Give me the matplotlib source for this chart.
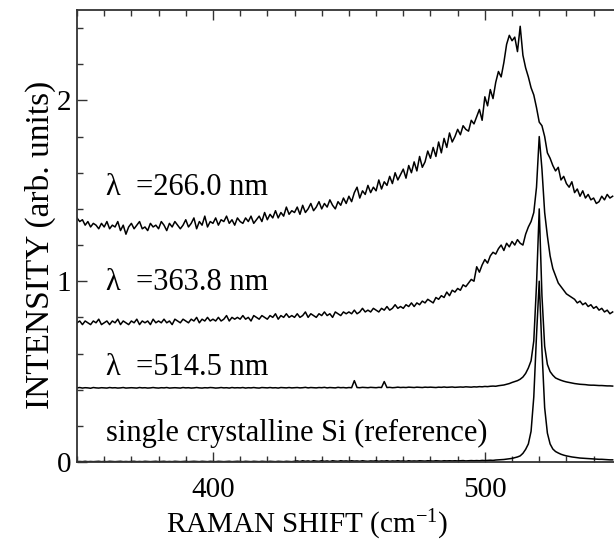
import numpy as np
import matplotlib
matplotlib.use('Agg')
import matplotlib.pyplot as plt
from matplotlib.ticker import MultipleLocator

plt.rcParams['font.family'] = ['Liberation Serif', 'DejaVu Serif']
plt.rcParams['mathtext.fontset'] = 'custom'
plt.rcParams['mathtext.rm'] = 'Liberation Serif'
plt.rcParams['mathtext.default'] = 'regular'

# Raman shift sampling, 350 .. 547 cm-1, 1 cm-1 step
shift = np.arange(350, 548)

# lambda = 266.0 nm
i_266 = [
    1.35, 1.33, 1.34, 1.31, 1.33, 1.30, 1.32, 1.31, 1.29, 1.32,
    1.30, 1.33, 1.29, 1.31, 1.30, 1.33, 1.28, 1.31, 1.26, 1.30,
    1.32, 1.29, 1.31, 1.33, 1.29, 1.30, 1.28, 1.32, 1.30, 1.31,
    1.29, 1.33, 1.31, 1.28, 1.32, 1.30, 1.33, 1.31, 1.29, 1.31,
    1.34, 1.30, 1.32, 1.35, 1.29, 1.33, 1.31, 1.36, 1.30, 1.33,
    1.32, 1.35, 1.31, 1.34, 1.33, 1.36, 1.32, 1.34, 1.31, 1.35,
    1.33, 1.32, 1.35, 1.33, 1.36, 1.32, 1.34, 1.36, 1.33, 1.38,
    1.34, 1.37, 1.35, 1.39, 1.35, 1.38, 1.36, 1.41, 1.37, 1.39,
    1.38, 1.41, 1.37, 1.42, 1.38, 1.40, 1.43, 1.39, 1.41, 1.44,
    1.40, 1.43, 1.41, 1.45, 1.42, 1.40, 1.44, 1.42, 1.46, 1.43,
    1.47, 1.44, 1.49, 1.52, 1.46, 1.50, 1.48, 1.53, 1.49, 1.52,
    1.50, 1.56, 1.51, 1.55, 1.53, 1.58, 1.54, 1.60, 1.56, 1.59,
    1.62, 1.57, 1.64, 1.60, 1.66, 1.61, 1.69, 1.63, 1.66, 1.72,
    1.68, 1.74, 1.69, 1.77, 1.71, 1.79, 1.74, 1.82, 1.77, 1.80,
    1.84, 1.81, 1.86, 1.84, 1.83, 1.89, 1.87, 1.91, 1.95, 1.89,
    2.02, 1.97, 2.06, 2.01, 2.10, 2.16, 2.13, 2.21, 2.31, 2.36,
    2.33, 2.35, 2.27, 2.41, 2.25, 2.18, 2.13, 2.07, 2.03, 1.96,
    1.88, 1.86, 1.80, 1.71, 1.68, 1.64, 1.61, 1.63, 1.56, 1.58,
    1.54, 1.52, 1.55, 1.49, 1.51, 1.47, 1.50, 1.46, 1.48, 1.45,
    1.46, 1.43, 1.44, 1.47, 1.45, 1.48, 1.46, 1.47,
]

# lambda = 363.8 nm
i_364 = [
    0.77, 0.78, 0.76, 0.78, 0.77, 0.76, 0.78, 0.77, 0.79, 0.76,
    0.77, 0.78, 0.76, 0.78, 0.77, 0.79, 0.76, 0.78, 0.77, 0.76,
    0.78, 0.77, 0.79, 0.76, 0.78, 0.77, 0.78, 0.76, 0.79, 0.77,
    0.78, 0.77, 0.79, 0.77, 0.78, 0.76, 0.79, 0.78, 0.77, 0.79,
    0.78, 0.77, 0.79, 0.78, 0.80, 0.77, 0.79, 0.78, 0.80, 0.78,
    0.79, 0.78, 0.80, 0.78, 0.79, 0.81, 0.78, 0.80, 0.79, 0.80,
    0.79, 0.81, 0.79, 0.80, 0.78, 0.81, 0.80, 0.79, 0.81, 0.80,
    0.79, 0.81, 0.80, 0.82, 0.79, 0.81, 0.80, 0.82, 0.80, 0.81,
    0.80, 0.82, 0.80, 0.81, 0.83, 0.80, 0.82, 0.81, 0.80, 0.82,
    0.81, 0.83, 0.81, 0.82, 0.80, 0.83, 0.82, 0.81, 0.83, 0.82,
    0.83, 0.82, 0.84, 0.82, 0.83, 0.85, 0.83, 0.84, 0.83, 0.85,
    0.84, 0.83, 0.85, 0.84, 0.86, 0.84, 0.85, 0.87, 0.85, 0.86,
    0.85, 0.87, 0.86, 0.88, 0.86, 0.88, 0.87, 0.89, 0.88, 0.90,
    0.89, 0.88, 0.91, 0.90, 0.92, 0.91, 0.94, 0.92, 0.95, 0.94,
    0.96, 0.95, 0.98, 0.97, 0.99, 1.01, 1.00, 1.08, 1.05, 1.09,
    1.12, 1.10, 1.14, 1.16, 1.15, 1.18, 1.20, 1.17, 1.21, 1.19,
    1.22, 1.20, 1.23, 1.21, 1.20, 1.26, 1.30, 1.33, 1.38, 1.52,
    1.80, 1.62, 1.38, 1.25, 1.14, 1.07, 1.03, 0.99, 0.97, 0.95,
    0.93, 0.92, 0.91, 0.90, 0.88, 0.89, 0.87, 0.88, 0.86, 0.87,
    0.85, 0.86, 0.84, 0.85, 0.83, 0.84, 0.82, 0.83,
]

# lambda = 514.5 nm
i_515 = [
    0.410, 0.412, 0.409, 0.411, 0.410, 0.408, 0.412, 0.410, 0.409, 0.411,
    0.410, 0.409, 0.412, 0.410, 0.411, 0.409, 0.410, 0.412, 0.409, 0.410,
    0.411, 0.410, 0.409, 0.412, 0.410, 0.411, 0.409, 0.410, 0.412, 0.410,
    0.409, 0.411, 0.410, 0.412, 0.409, 0.410, 0.411, 0.410, 0.409, 0.412,
    0.410, 0.411, 0.409, 0.410, 0.412, 0.410, 0.409, 0.411, 0.410, 0.412,
    0.411, 0.409, 0.410, 0.412, 0.410, 0.411, 0.409, 0.412, 0.410, 0.411,
    0.410, 0.412, 0.409, 0.411, 0.410, 0.412, 0.410, 0.409, 0.412, 0.411,
    0.410, 0.412, 0.410, 0.411, 0.409, 0.412, 0.411, 0.410, 0.412, 0.410,
    0.411, 0.412, 0.410, 0.411, 0.413, 0.410, 0.412, 0.411, 0.410, 0.412,
    0.411, 0.413, 0.410, 0.412, 0.411, 0.410, 0.413, 0.411, 0.412, 0.410,
    0.412, 0.411, 0.450, 0.412, 0.411, 0.413, 0.412, 0.411, 0.413, 0.412,
    0.411, 0.413, 0.412, 0.445, 0.412, 0.413, 0.411, 0.412, 0.414, 0.412,
    0.413, 0.412, 0.414, 0.413, 0.412, 0.414, 0.413, 0.412, 0.414, 0.413,
    0.414, 0.413, 0.412, 0.414, 0.413, 0.415, 0.413, 0.414, 0.415, 0.413,
    0.414, 0.415, 0.414, 0.416, 0.415, 0.414, 0.416, 0.415, 0.417, 0.416,
    0.418, 0.417, 0.419, 0.420, 0.419, 0.422, 0.424, 0.426, 0.430, 0.434,
    0.440, 0.445, 0.450, 0.458, 0.470, 0.490, 0.520, 0.560, 0.670, 0.980,
    1.400, 0.920, 0.640, 0.540, 0.500, 0.480, 0.465, 0.458, 0.452, 0.447,
    0.443, 0.440, 0.437, 0.434, 0.432, 0.430, 0.429, 0.428, 0.426, 0.425,
    0.425, 0.424, 0.423, 0.423, 0.422, 0.421, 0.421, 0.420,
]

# single crystalline Si (reference)
i_ref = [
    0.002, 0.003, 0.002, 0.004, 0.002, 0.003, 0.002, 0.003, 0.004, 0.002,
    0.003, 0.002, 0.004, 0.003, 0.002, 0.003, 0.004, 0.002, 0.003, 0.002,
    0.003, 0.004, 0.002, 0.003, 0.002, 0.004, 0.003, 0.002, 0.003, 0.004,
    0.002, 0.003, 0.004, 0.002, 0.003, 0.002, 0.004, 0.003, 0.002, 0.003,
    0.004, 0.002, 0.003, 0.004, 0.003, 0.002, 0.004, 0.003, 0.002, 0.004,
    0.003, 0.002, 0.004, 0.003, 0.002, 0.003, 0.004, 0.002, 0.003, 0.004,
    0.003, 0.002, 0.004, 0.003, 0.002, 0.004, 0.003, 0.002, 0.004, 0.003,
    0.002, 0.004, 0.003, 0.002, 0.004, 0.003, 0.002, 0.004, 0.003, 0.002,
    0.004, 0.006, 0.003, 0.007, 0.004, 0.006, 0.003, 0.007, 0.005, 0.004,
    0.007, 0.004, 0.006, 0.003, 0.007, 0.005, 0.004, 0.007, 0.005, 0.006,
    0.004, 0.007, 0.005, 0.006, 0.004, 0.007, 0.005, 0.004, 0.006, 0.005,
    0.007, 0.004, 0.006, 0.005, 0.007, 0.004, 0.006, 0.005, 0.007, 0.005,
    0.006, 0.004, 0.007, 0.005, 0.006, 0.005, 0.007, 0.006, 0.005, 0.007,
    0.006, 0.005, 0.007, 0.006, 0.005, 0.007, 0.006, 0.007, 0.006, 0.007,
    0.006, 0.007, 0.008, 0.006, 0.007, 0.008, 0.007, 0.008, 0.007, 0.009,
    0.008, 0.009, 0.010, 0.009, 0.011, 0.012, 0.013, 0.014, 0.016, 0.018,
    0.020, 0.024, 0.028, 0.034, 0.048, 0.070, 0.100, 0.170, 0.360, 0.700,
    1.000, 0.620, 0.300, 0.160, 0.100, 0.072, 0.058, 0.050, 0.043, 0.038,
    0.034, 0.031, 0.028, 0.026, 0.024, 0.022, 0.021, 0.020, 0.019, 0.018,
    0.017, 0.016, 0.015, 0.015, 0.014, 0.013, 0.012, 0.012,
]

fig = plt.figure(figsize=(6.14, 5.44), dpi=100)
ax = fig.add_axes([0.1254, 0.1507, 0.8746, 0.8309])

for y in (i_266, i_364, i_515, i_ref):
    ax.plot(shift, y, color='black', lw=1.1)

ax.set_xlim(350, 547.5)
ax.set_ylim(0, 2.5)

ax.xaxis.set_major_locator(MultipleLocator(100))
ax.xaxis.set_minor_locator(MultipleLocator(10))
ax.yaxis.set_major_locator(MultipleLocator(1))
ax.yaxis.set_minor_locator(MultipleLocator(0.2))
ax.tick_params(which='both', direction='in', top=True, right=False,
               colors='#333333', labelcolor='black', labelsize=21, width=1.0)
ax.tick_params(which='major', length=7)
ax.tick_params(which='minor', length=4)
ax.tick_params(axis='x', which='major', pad=11)
ax.tick_params(axis='y', which='major', pad=4)

for side in ('left', 'bottom', 'top'):
    ax.spines[side].set_color('#333333')
    ax.spines[side].set_linewidth(1.3)
ax.spines['right'].set_visible(False)

fig.text(0.5, 1 - 533 / 544, 'RAMAN SHIFT (cm$^{-1}$)', fontsize=21,
         ha='center', va='baseline')
fig.text(40 / 614, 1 - 245 / 544, 'INTENSITY (arb. units)', fontsize=24,
         rotation=90, ha='center', va='center')

ax.text(360.5, 1.52, 'λ  =266.0 nm', fontsize=22, va='center')
ax.text(360.5, 0.995, 'λ  =363.8 nm', fontsize=22, va='center')
ax.text(360.5, 0.525, 'λ  =514.5 nm', fontsize=22, va='center')
ax.text(360.5, 0.16, 'single crystalline Si (reference)', fontsize=22, va='center')

fig.savefig('out.png', dpi=100)
